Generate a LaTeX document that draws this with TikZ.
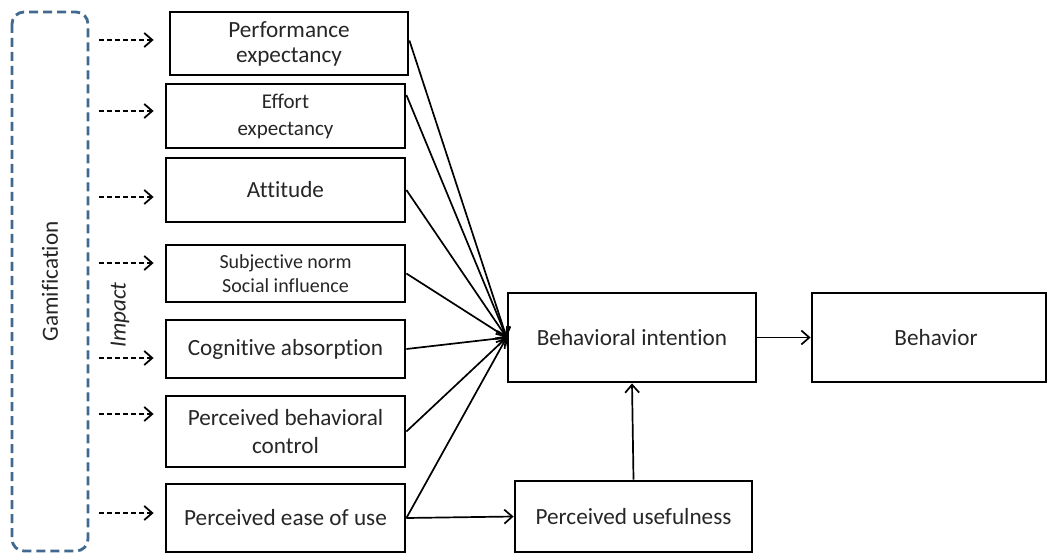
\documentclass[tikz,border=0pt]{standalone}
\usepackage{fontspec}
\setmainfont{Carlito}[Ligatures=NoCommon]
\usetikzlibrary{arrows.meta, positioning, calc}
\definecolor{gamiBlue}{HTML}{41698F}
\definecolor{textGray}{HTML}{262626}

\begin{document}
\begin{tikzpicture}[
  x=0.5pt, y=-0.5pt,
  box/.style={draw=black, line width=1.4pt, minimum width=119.5pt, align=center, inner sep=2pt, text=textGray, font=\fontsize{11.6}{12.5}\selectfont},
  link/.style={-{Straight Barb[length=4pt,width=7pt]}, line width=0.85pt},
  impact/.style={-{Straight Barb[length=4pt,width=7pt]}, line width=0.9pt, dash pattern=on 2.5pt off 1.5pt}
]
  \useasboundingbox (0,0) rectangle (1047,555);

  % gamification frame
  \node[draw=gamiBlue, line width=1.4pt, dash pattern=on 4.5pt off 2.5pt, rounded corners=6pt,
        rotate=90, minimum width=269.5pt, minimum height=38pt, text=textGray,
        font=\fontsize{11.6}{12.5}\selectfont] (gam) at (50,281.5) {Gamification};
  \node[rotate=90, text=textGray, font=\fontsize{11.6}{12.5}\selectfont\itshape] (imp) at (120,315) {Impact};

  % antecedents
  \node[box, minimum width=119pt, minimum height=31.5pt] (pe) at (289,43.5) {Performance\\expectancy};
  \node[box, minimum height=32pt, font=\fontsize{10.5}{13.5}\selectfont] (ee) at (285.5,116) {Effort\\expectancy};
  \node[box, minimum height=32pt] (att) at (285.5,190) {Attitude};
  \node[box, minimum height=28.5pt, font=\fontsize{10}{12}\selectfont] (sn) at (285.5,273.5) {Subjective norm\\Social influence};
  \node[box, minimum height=29pt] (ca) at (285.5,349) {Cognitive absorption};
  \node[box, minimum height=35.5pt, font=\fontsize{11.6}{14}\selectfont] (pbc) at (285.5,431.5) {Perceived behavioral\\control};
  \node[box, minimum height=34pt] (peou) at (285.5,518) {Perceived ease of use};

  % outcomes
  \node[box, minimum width=124pt, minimum height=44.5pt] (bi) at (632,337.5) {Behavioral intention};
  \node[box, minimum width=117pt, minimum height=44.5pt] (beh) at (929,337.5) {\hspace{7pt}Behavior};
  \node[box, minimum width=118.5pt, minimum height=35.5pt] (pu) at (633.5,516.5) {Perceived usefulness};

  % impact arrows
  \foreach \b/\dx/\dy in {pe/-7.5/1.75, ee/-5.5/2.5, att/-5.5/-3.5, sn/-5.5/5.25, ca/-5.5/-4.5, pbc/-5.5/8.75, peou/-5.5/2.5}{
    \coordinate (t\b) at ([xshift=\dx pt, yshift=\dy pt]\b.west);
    \draw[impact] ([xshift=5pt]gam.south |- t\b) -- (t\b);
  }

  % paths to intention
  \draw[link] ([yshift=1.5pt]pe.east) -- (bi.west);
  \draw[link] ([yshift=10.5pt]ee.east) -- (bi.west);
  \foreach \b in {att, sn, ca, pbc, peou}
    \draw[link] (\b.east) -- (bi.west);
  \draw[link] (peou.east) -- (pu.west);
  \draw[link] (pu.north) -- (bi.south);
  \draw[link] (bi.east) -- (beh.west);
\end{tikzpicture}
\end{document}
